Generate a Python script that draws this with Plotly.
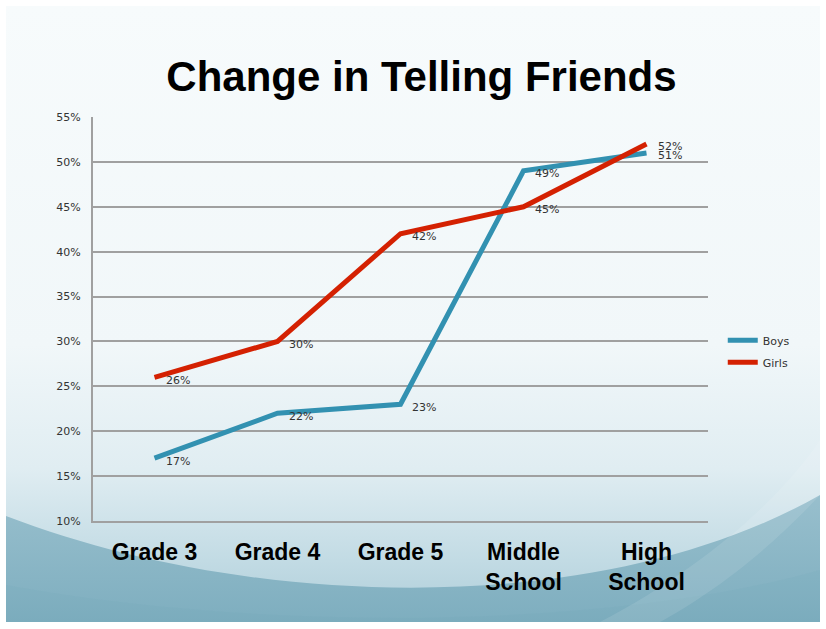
import base64
import plotly.graph_objects as go

categories = ["Grade 3", "Grade 4", "Grade 5", "Middle<br>School", "High<br>School"]
boys = [17, 22, 23, 49, 51]
girls = [26, 30, 42, 45, 52]
y_ticks = [10, 15, 20, 25, 30, 35, 40, 45, 50, 55]

W, H = 826, 629
L, R, T, B = 93, 118, 117, 108
pw, ph = W - L - R, H - T - B

svg = f'''<svg xmlns="http://www.w3.org/2000/svg" width="{W}" height="{H}" viewBox="0 0 {W} {H}">
<defs>
<linearGradient id="bg" x1="0" y1="0" x2="0" y2="1">
<stop offset="0" stop-color="#f7fbfc"/>
<stop offset="0.55" stop-color="#f1f7f9"/>
<stop offset="0.75" stop-color="#e0edf2"/>
<stop offset="0.9" stop-color="#c2dbe4"/>
<stop offset="1" stop-color="#aecdd9"/>
</linearGradient>
<linearGradient id="w1" x1="0" y1="0" x2="0" y2="1">
<stop offset="0" stop-color="#98bfcd"/>
<stop offset="1" stop-color="#7eaebf"/>
</linearGradient>
</defs>
<rect x="0" y="0" width="{W}" height="{H}" fill="#ffffff"/>
<rect x="6" y="6" width="814" height="616" fill="url(#bg)"/>
<path d="M6,516 C 250,610 600,620 820,495 L820,622 L6,622 Z" fill="url(#w1)"/>
<path d="M6,585 C 250,630 600,632 820,570 L820,622 L6,622 Z" fill="#6fa2b5" fill-opacity="0.12"/>
<path d="M600,622 C 700,570 780,500 820,440 L820,495 C 760,560 700,600 660,622 Z" fill="#ffffff" fill-opacity="0.10"/>
</svg>'''
img = "data:image/svg+xml;base64," + base64.b64encode(svg.encode()).decode()

fig = go.Figure()
fig.add_trace(go.Scatter(x=categories, y=boys, name="Boys", mode="lines", legendgroup="b",
                         line=dict(color="#3291b1", width=5)))
fig.add_trace(go.Scatter(x=categories, y=girls, name="Girls", mode="lines", legendgroup="g",
                         line=dict(color="#d42102", width=5)))

annots = []
for series in (boys, girls):
    for c, v in zip(categories, series):
        annots.append(dict(x=c, y=v, text=f"{v}%", showarrow=False, xanchor="left",
                           yanchor="middle", xshift=9, yshift=-3,
                           font=dict(family="DejaVu Sans", size=11, color="#333333")))

bold_font = "Liberation Sans, Arial, sans-serif"
fig.update_layout(
    width=W, height=H,
    margin=dict(l=L, r=R, t=T, b=B),
    paper_bgcolor="#ffffff", plot_bgcolor="rgba(0,0,0,0)",
    title=dict(text="<b>Change in Telling Friends</b>", x=421.5 / W, xref="paper",
               xanchor="center", y=1 - 76 / H, yanchor="middle",
               font=dict(family=bold_font, size=42, color="#000000")),
    annotations=annots,
    showlegend=True,
    legend=dict(x=1.024, y=0.42, xanchor="left", yanchor="middle", bgcolor="rgba(0,0,0,0)",
                font=dict(family="DejaVu Sans", size=11, color="#333333"),
                traceorder="grouped", itemwidth=30, tracegroupgap=3),
    images=[dict(source=img, xref="paper", yref="paper",
                 x=-L / pw, y=1 + T / ph, sizex=W / pw, sizey=H / ph,
                 xanchor="left", yanchor="top", sizing="stretch", layer="below")],
)
fig.update_layout(title_xref="container", title_x=421.5 / W)
fig.update_xaxes(showgrid=False, showline=True, linecolor="#a0a0a0", linewidth=2,
                 ticks="", ticklabelstandoff=9,
                 tickfont=dict(family=bold_font, size=23, color="#000000"),
                 tickprefix="<b>", ticksuffix="</b>", range=[-0.5, 4.5])
fig.update_yaxes(range=[10, 55], tickvals=y_ticks, ticktext=[f"{t}%" for t in y_ticks],
                 showgrid=True, gridcolor="#a0a0a0", gridwidth=2, zeroline=False,
                 showline=True, linecolor="#a0a0a0", linewidth=2, ticks="",
                 ticklabelstandoff=8,
                 tickfont=dict(family="DejaVu Sans", size=11, color="#333333"))

fig.write_html("out.html", config={"displayModeBar": False},
               post_script="document.body.style.margin='0px';")
